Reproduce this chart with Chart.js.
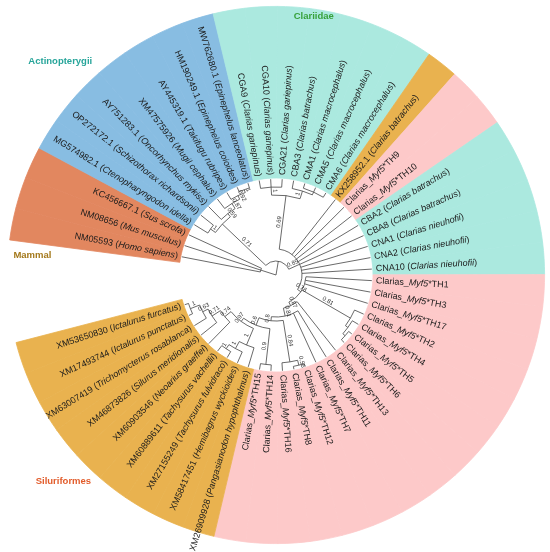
<!DOCTYPE html>
<html>
<head>
<meta charset="utf-8">
<script src="https://cdn.jsdelivr.net/npm/chart.js@4.4.0/dist/chart.umd.min.js"></script>
<style>
  html, body { margin: 0; padding: 0; background: #fff; }
</style>
</head>
<body>
<canvas id="tree" width="550" height="552"></canvas>
<script>
// leaves in clockwise order, starting after the open gap
const leafIds = [
  'NM05593', 'NM08656', 'KC456667.1',
  'MG574982.1', 'OP272172.1', 'AY751283.1', 'XM47575926', 'AY445319.1', 'HM190249.1', 'MW762680.1',
  'CGA9', 'CGA10', 'CGA21', 'CBA3', 'CMA1', 'CMA5', 'CMA6',
  'KX258952.1',
  'Clarias_Myf5*TH9', 'Clarias_Myf5*TH10',
  'CBA2', 'CBA8', 'CNA1', 'CNA2', 'CNA10',
  'Clarias_Myf5*TH1', 'Clarias_Myf5*TH3', 'Clarias_Myf5*TH17', 'Clarias_Myf5*TH2', 'Clarias_Myf5*TH4',
  'Clarias_Myf5*TH5', 'Clarias_Myf5*TH6', 'Clarias_Myf5*TH13', 'Clarias_Myf5*TH11', 'Clarias_Myf5*TH7',
  'Clarias_Myf5*TH12', 'Clarias_Myf5*TH8', 'Clarias_Myf5*TH16', 'Clarias_Myf5*TH14', 'Clarias_Myf5*TH15',
  'XM26909928', 'XM58417451', 'XM27155249', 'XM60889611', 'XM60903546',
  'XM46873826', 'XM63007419', 'XM17493744', 'XM53650830'
];
const leafSpecies = [
  'Homo sapiens', 'Mus musculus', 'Sus scrofa',
  'Ctenopharyngodon idella', 'Schizothorax richardsonii', 'Oncorhynchus mykiss', 'Mugil cephalus',
  'Takifugu rubripes', 'Epinephelus coioides', 'Epinephelus lanceolatus',
  'Clarias gariepinus', 'Clarias gariepinus', 'Clarias gariepinus', 'Clarias batrachus',
  'Clarias macrocephalus', 'Clarias macrocephalus', 'Clarias macrocephalus',
  'Clarias batrachus',
  '', '',
  'Clarias batrachus', 'Clarias batrachus', 'Clarias nieuhofii', 'Clarias nieuhofii', 'Clarias nieuhofii',
  '', '', '', '', '', '', '', '', '', '', '', '', '', '', '',
  'Pangasianodon hypophthalmus', 'Hemibagrus wyckioides', 'Tachysurus fulvidraco', 'Tachysurus vachellii',
  'Neoarius graeffei', 'Silurus meridionalis', 'Trichomycterus rosablanca', 'Ictalurus punctatus',
  'Ictalurus furcatus'
];
const leafGroup = [
  0, 0, 0,
  1, 1, 1, 1, 1, 1, 1,
  2, 2, 2, 2, 2, 2, 2,
  3,
  4, 4,
  2, 2, 2, 2, 2,
  4, 4, 4, 4, 4, 4, 4, 4, 4, 4, 4, 4, 4, 4, 4,
  3, 3, 3, 3, 3, 3, 3, 3, 3
];
const groupNames = ['Mammal', 'Actinopterygii', 'Clariidae', 'Siluriformes', ''];
const groupColors = ['#e2875f', '#88bde2', '#abe9df', '#e9b24f', '#fdc9c9'];
const groupTextColors = ['#a3781b', '#27a59a', '#37a13b', '#e25c2b', ''];
const gapSize = 3.2; // open angle of the tree, in leaf widths

// tree: [support, node radius, children]; numbers are leaf indexes
const tipRadius = 96;
const tree = ['', 0, [
  ['', 16, [0, 1, 2]],
  ['', 14, [
    ['0.71', 74, [
      ['1', 80, [3, 4]],
      ['0.59', 78, [5, ['0.87', 84, [6, ['0.92', 88, [7, ['1', 91, [8, 9]]]]]]]]
    ]],
    ['0.85', 26, [
      ['0.69', 80, [['1', 88, [10, 11, 12]], ['1', 88, [13, ['', 91, [14, 15, 16]]]]]],
      17, 18, 19, 20, 21, 22, 23, 24,
      ['0.76', 30, [25, 26, 27,
        ['0.81', 86, [28, ['', 89, [29, ['', 92, [30, 31]]]]]],
        ['0.87', 34, [32,
          ['0.81', 42, [33, 34,
            ['0.8', 46, [
              ['0.84', 88, [['0.56', 93, [35, 36]], 37]],
              ['0.6', 54, [
                ['0.9', 90, [38, 39]],
                ['0.97', 58, [
                  ['1', 76, [40, ['1', 84, [41, ['1', 89, [42, 43]]]]]],
                  ['0.74', 66, [44, ['0.71', 76, [45, ['0.63', 82, [46, ['1', 92, [47, 48]]]]]]]]
                ]]
              ]]
            ]]
          ]]
        ]]
      ]]
    ]]
  ]]
]];

// where the clade names sit: [degrees clockwise from top, fraction of outer radius]
const groupLabelSpots = [[274.7, 0.91], [314.7, 1.13], [8.3, 0.974], [225.8, 1.104], null];

const FONT = '"Liberation Sans", Arial, sans-serif';
const leafAngle = 360 / (leafIds.length + gapSize);

const treePlugin = {
  id: 'treePlugin',
  afterDraw(chart) {
    const ctx = chart.ctx;
    const arcs = chart.getDatasetMeta(0).data;
    const cx = arcs[1].x, cy = arcs[1].y;
    const inner = arcs[1].innerRadius, outer = arcs[1].outerRadius;
    const k = inner / 97;
    const angleOf = i => (arcs[i + 1].startAngle + arcs[i + 1].endAngle) / 2;

    ctx.save();
    ctx.strokeStyle = '#444';
    ctx.lineWidth = 0.8;

    const supports = [];
    function place(node) {
      if (typeof node === 'number') return { a: angleOf(node), r: tipRadius * k };
      const [support, radius, kids] = node;
      const r = radius * k;
      const pts = kids.map(place);
      const first = pts[0].a, last = pts[pts.length - 1].a;
      ctx.beginPath();
      ctx.arc(cx, cy, r, first, last);
      ctx.stroke();
      pts.forEach((p, j) => {
        ctx.beginPath();
        ctx.moveTo(cx + r * Math.cos(p.a), cy + r * Math.sin(p.a));
        ctx.lineTo(cx + p.r * Math.cos(p.a), cy + p.r * Math.sin(p.a));
        ctx.stroke();
        const kid = kids[j];
        if (typeof kid !== 'number' && kid[0]) supports.push([kid[0], (r + p.r) / 2, p.a]);
      });
      return { a: (first + last) / 2, r };
    }
    place(tree);

    // bootstrap values, written above their branch
    ctx.fillStyle = '#333';
    ctx.font = '6px ' + FONT;
    supports.forEach(([txt, rm, a]) => {
      const right = Math.cos(a) >= 0;
      ctx.save();
      ctx.translate(cx, cy);
      ctx.rotate(right ? a : a + Math.PI);
      ctx.textAlign = 'center';
      ctx.textBaseline = 'bottom';
      ctx.fillText(txt, right ? rm : -rm, -0.6);
      ctx.restore();
    });

    // leaf names
    const start = inner + 3;
    ctx.fillStyle = '#1b1b1b';
    ctx.textBaseline = 'middle';
    ctx.textAlign = 'left';
    leafIds.forEach((id, i) => {
      let parts;
      if (leafSpecies[i]) parts = [[id + ' (', false], [leafSpecies[i], true], [')', false]];
      else {
        const p = id.split('Myf5');
        parts = [[p[0], false], ['Myf5', true], [p[1], false]];
      }
      const fontOf = it => (it ? 'italic ' : '') + '9px ' + FONT;
      let total = 0;
      parts.forEach(([t, it]) => { ctx.font = fontOf(it); total += ctx.measureText(t).width; });
      const a = angleOf(i);
      const right = Math.cos(a) >= 0;
      ctx.save();
      ctx.translate(cx, cy);
      ctx.rotate(right ? a : a + Math.PI);
      let x = right ? start : -start - total;
      parts.forEach(([t, it]) => {
        ctx.font = fontOf(it);
        ctx.fillText(t, x, 0);
        x += ctx.measureText(t).width;
      });
      ctx.restore();
    });

    // clade names
    ctx.font = 'bold 9.5px ' + FONT;
    ctx.textAlign = 'center';
    groupNames.forEach((name, g) => {
      const spot = groupLabelSpots[g];
      if (!name || !spot) return;
      const a = (spot[0] - 90) * Math.PI / 180;
      const r = spot[1] * outer;
      ctx.fillStyle = groupTextColors[g];
      ctx.fillText(name, cx + r * Math.cos(a), cy + r * Math.sin(a));
    });
    ctx.restore();
  }
};

const sliceColors = ['rgba(255,255,255,0)', ...leafGroup.map(g => groupColors[g])];

new Chart(document.getElementById('tree'), {
  type: 'doughnut',
  data: {
    labels: ['', ...leafIds],
    datasets: [{
      data: [gapSize, ...leafIds.map(() => 1)],
      backgroundColor: sliceColors,
      borderColor: sliceColors,
      borderWidth: 0.8,
      hoverOffset: 0
    }]
  },
  options: {
    responsive: false,
    animation: false,
    cutout: 97,
    rotation: 277.5 - gapSize * leafAngle,
    layout: { padding: { left: 7, right: 5, top: 6, bottom: 8 } },
    plugins: { legend: { display: false }, tooltip: { enabled: false } }
  },
  plugins: [treePlugin]
});
</script>
</body>
</html>
